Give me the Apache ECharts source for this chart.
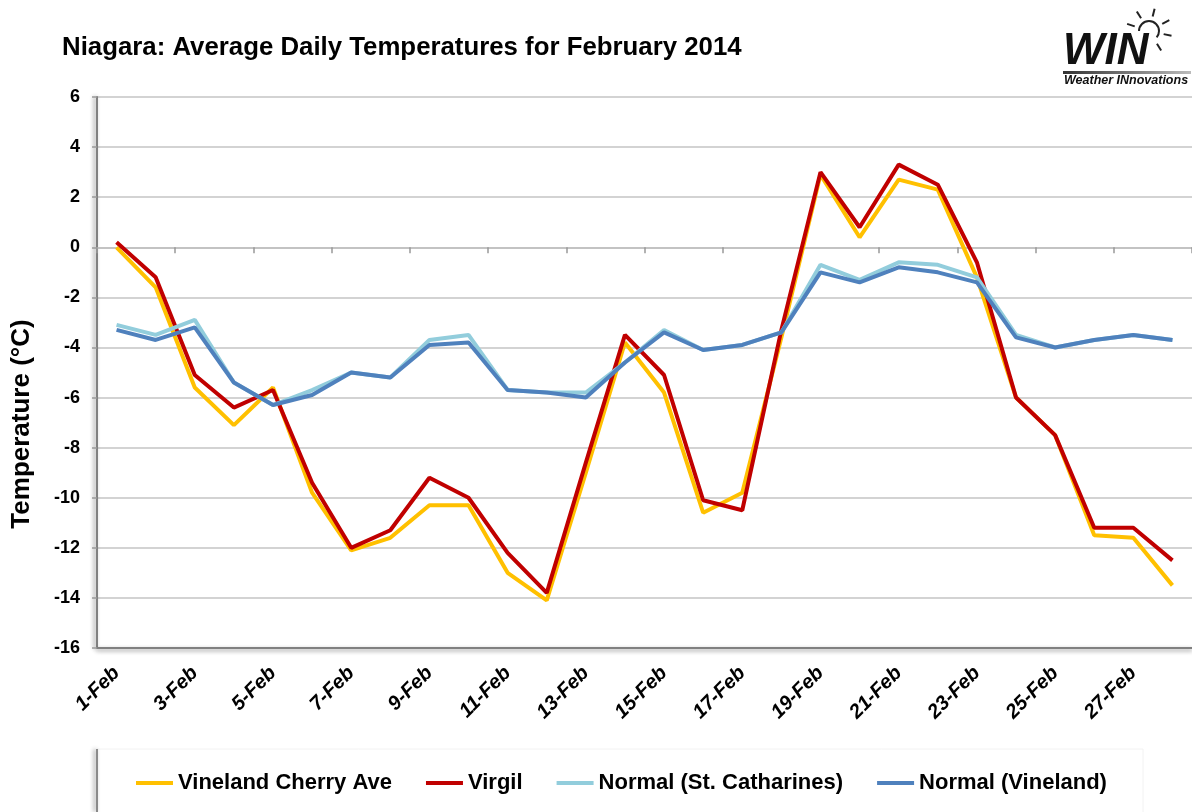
<!DOCTYPE html>
<html>
<head>
<meta charset="utf-8">
<title>Niagara: Average Daily Temperatures for February 2014</title>
<script src="https://cdn.jsdelivr.net/npm/echarts@6/dist/echarts.min.js"></script>
<style>
html, body { margin: 0; padding: 0; background: #fff; }
#chart { width: 1192px; height: 812px; }
</style>
</head>
<body>
<div id="chart"></div>
<script>
// dates on the x axis
var days = ['1-Feb','2-Feb','3-Feb','4-Feb','5-Feb','6-Feb','7-Feb','8-Feb','9-Feb','10-Feb',
	'11-Feb','12-Feb','13-Feb','14-Feb','15-Feb','16-Feb','17-Feb','18-Feb','19-Feb','20-Feb',
	'21-Feb','22-Feb','23-Feb','24-Feb','25-Feb','26-Feb','27-Feb','28-Feb'];

// average daily temperature, degC
var vinelandCherry = [0.0, -1.6, -5.6, -7.1, -5.6, -9.8, -12.1, -11.6, -10.3, -10.3,
	-13.0, -14.1, -9.0, -3.8, -5.8, -10.6, -9.8, -3.6, 2.9, 0.4,
	2.7, 2.3, -1.2, -6.0, -7.5, -11.5, -11.6, -13.5];
var virgil = [0.2, -1.2, -5.1, -6.4, -5.7, -9.4, -12.0, -11.3, -9.2, -10.0,
	-12.2, -13.8, -8.6, -3.5, -5.1, -10.1, -10.5, -3.3, 3.0, 0.8,
	3.3, 2.5, -0.6, -6.0, -7.5, -11.2, -11.2, -12.5];
var normalStCatharines = [-3.1, -3.5, -2.9, -5.4, -6.3, -5.7, -5.0, -5.2, -3.7, -3.5,
	-5.7, -5.8, -5.8, -4.6, -3.3, -4.1, -3.9, -3.4, -0.7, -1.3,
	-0.6, -0.7, -1.2, -3.5, -4.0, -3.7, -3.5, -3.7];
var normalVineland = [-3.3, -3.7, -3.2, -5.4, -6.3, -5.9, -5.0, -5.2, -3.9, -3.8,
	-5.7, -5.8, -6.0, -4.6, -3.4, -4.1, -3.9, -3.4, -1.0, -1.4,
	-0.8, -1.0, -1.4, -3.6, -4.0, -3.7, -3.5, -3.7];

var seriesNames = ['Vineland Cherry Ave', 'Virgil', 'Normal (St. Catharines)', 'Normal (Vineland)'];
var seriesColors = ['#FFC000', '#C00000', '#92CDDC', '#4F81BD'];

var font = '"Liberation Sans", Arial, sans-serif';

function lineSeries(i, data){
	return {
		name: seriesNames[i],
		type: 'line',
		data: data,
		symbol: 'none',
		smooth: false,
		lineStyle: { color: seriesColors[i], width: 4 },
		itemStyle: { color: seriesColors[i] },
		z: 2 + i
	};
}

// WIN logo sun rays
var rayAngles = [-162, -122, -76, -28, 12, 58];
var logo = [];
rayAngles.forEach(function(a){
	var r = a * Math.PI / 180;
	logo.push({
		type: 'line',
		shape: { x1: 1149 + 15 * Math.cos(r), y1: 31 + 15 * Math.sin(r), x2: 1149 + 23 * Math.cos(r), y2: 31 + 23 * Math.sin(r) },
		style: { stroke: '#222', lineWidth: 2 }
	});
});
logo.push({
	type: 'arc',
	shape: { cx: 1149, cy: 31, r: 10, startAngle: Math.PI, endAngle: Math.PI * 2 + 0.7, clockwise: true },
	style: { stroke: '#222', lineWidth: 2, fill: null }
});
logo.push({
	type: 'text', x: 1063, y: 52,
	style: { text: 'WIN', font: 'italic 900 44px ' + font, fill: '#111', verticalAlign: 'middle' }
});
logo.push({
	type: 'rect', shape: { x: 1063, y: 71, width: 128, height: 3 },
	style: { fill: { type: 'linear', x: 0, y: 0, x2: 1, y2: 0, colorStops: [{ offset: 0, color: '#333' }, { offset: 1, color: '#bbb' }] } }
});
logo.push({
	type: 'text', x: 1064, y: 81,
	style: { text: 'Weather INnovations', font: 'italic bold 12.5px ' + font, fill: '#111', verticalAlign: 'middle' }
});

// legend frame
var legendBox = [{
	type: 'rect', z: -1,
	shape: { x: 97, y: 749, width: 1046, height: 80 },
	style: { fill: '#fff', stroke: '#f2f2f2', lineWidth: 1 }
}, {
	type: 'line', z: -1,
	shape: { x1: 97, y1: 749, x2: 97, y2: 812 },
	style: { stroke: '#8a8a8a', lineWidth: 2, shadowColor: 'rgba(0,0,0,0.45)', shadowBlur: 4, shadowOffsetX: -2 }
}];

// y axis title
var yTitle = [{
	type: 'text',
	x: 22, y: 424,
	rotation: Math.PI / 2,
	style: { text: 'Temperature (°C)', font: 'bold 26px ' + font, fill: '#000', align: 'center', verticalAlign: 'middle' }
}];

var chart = echarts.init(document.getElementById('chart'));
chart.setOption({
	backgroundColor: '#fff',
	animation: false,
	textStyle: { fontFamily: font },
	title: {
		text: 'Niagara: Average Daily Temperatures for February 2014',
		left: 57,
		top: 30,
		textStyle: { fontSize: 25.8, fontWeight: 'bold', color: '#000', fontFamily: font }
	},
	legend: {
		data: seriesNames,
		left: 131,
		top: 767,
		icon: 'rect',
		itemWidth: 37,
		itemHeight: 4,
		itemGap: 34,
		textStyle: { fontSize: 22, fontWeight: 'bold', color: '#000', fontFamily: font }
	},
	grid: {
		left: 97,
		right: 0,
		top: 97,
		bottom: 164,
		containLabel: false,
		outerBoundsMode: 'none'
	},
	xAxis: [
		{
			type: 'category',
			data: days,
			position: 'bottom',
			boundaryGap: true,
			axisLine: {
				onZero: false,
				lineStyle: { color: '#808080', width: 2, shadowColor: 'rgba(0,0,0,0.45)', shadowBlur: 4, shadowOffsetY: 2 }
			},
			axisTick: { show: false },
			axisLabel: {
				interval: 1,
				rotate: 45,
				margin: 22,
				color: '#000',
				fontSize: 20,
				fontWeight: 'bold',
				fontStyle: 'italic',
				fontFamily: font
			},
			splitLine: { show: false }
		},
		{
			// ticks along the zero line
			type: 'category',
			data: days,
			position: 'bottom',
			boundaryGap: true,
			axisLine: { onZero: true, lineStyle: { color: '#bfbfbf', width: 1.5 } },
			axisTick: { show: true, interval: 1, length: 6, lineStyle: { color: '#999', width: 1.5 } },
			axisLabel: { show: false },
			splitLine: { show: false }
		}
	],
	yAxis: {
		type: 'value',
		min: -16,
		max: 6,
		interval: 2,
		axisLine: {
			show: true,
			lineStyle: { color: '#808080', width: 2, shadowColor: 'rgba(0,0,0,0.45)', shadowBlur: 4, shadowOffsetX: -2 }
		},
		axisTick: { show: true, length: 5, lineStyle: { color: '#999', width: 1.5 } },
		axisLabel: { margin: 17, color: '#000', fontSize: 18, fontWeight: 'bold', fontFamily: font },
		splitLine: { show: true, lineStyle: { color: '#c4c4c4', width: 1.5 } }
	},
	graphic: legendBox.concat(logo, yTitle),
	series: [
		lineSeries(0, vinelandCherry),
		lineSeries(1, virgil),
		lineSeries(2, normalStCatharines),
		lineSeries(3, normalVineland)
	]
});
</script>
</body>
</html>
